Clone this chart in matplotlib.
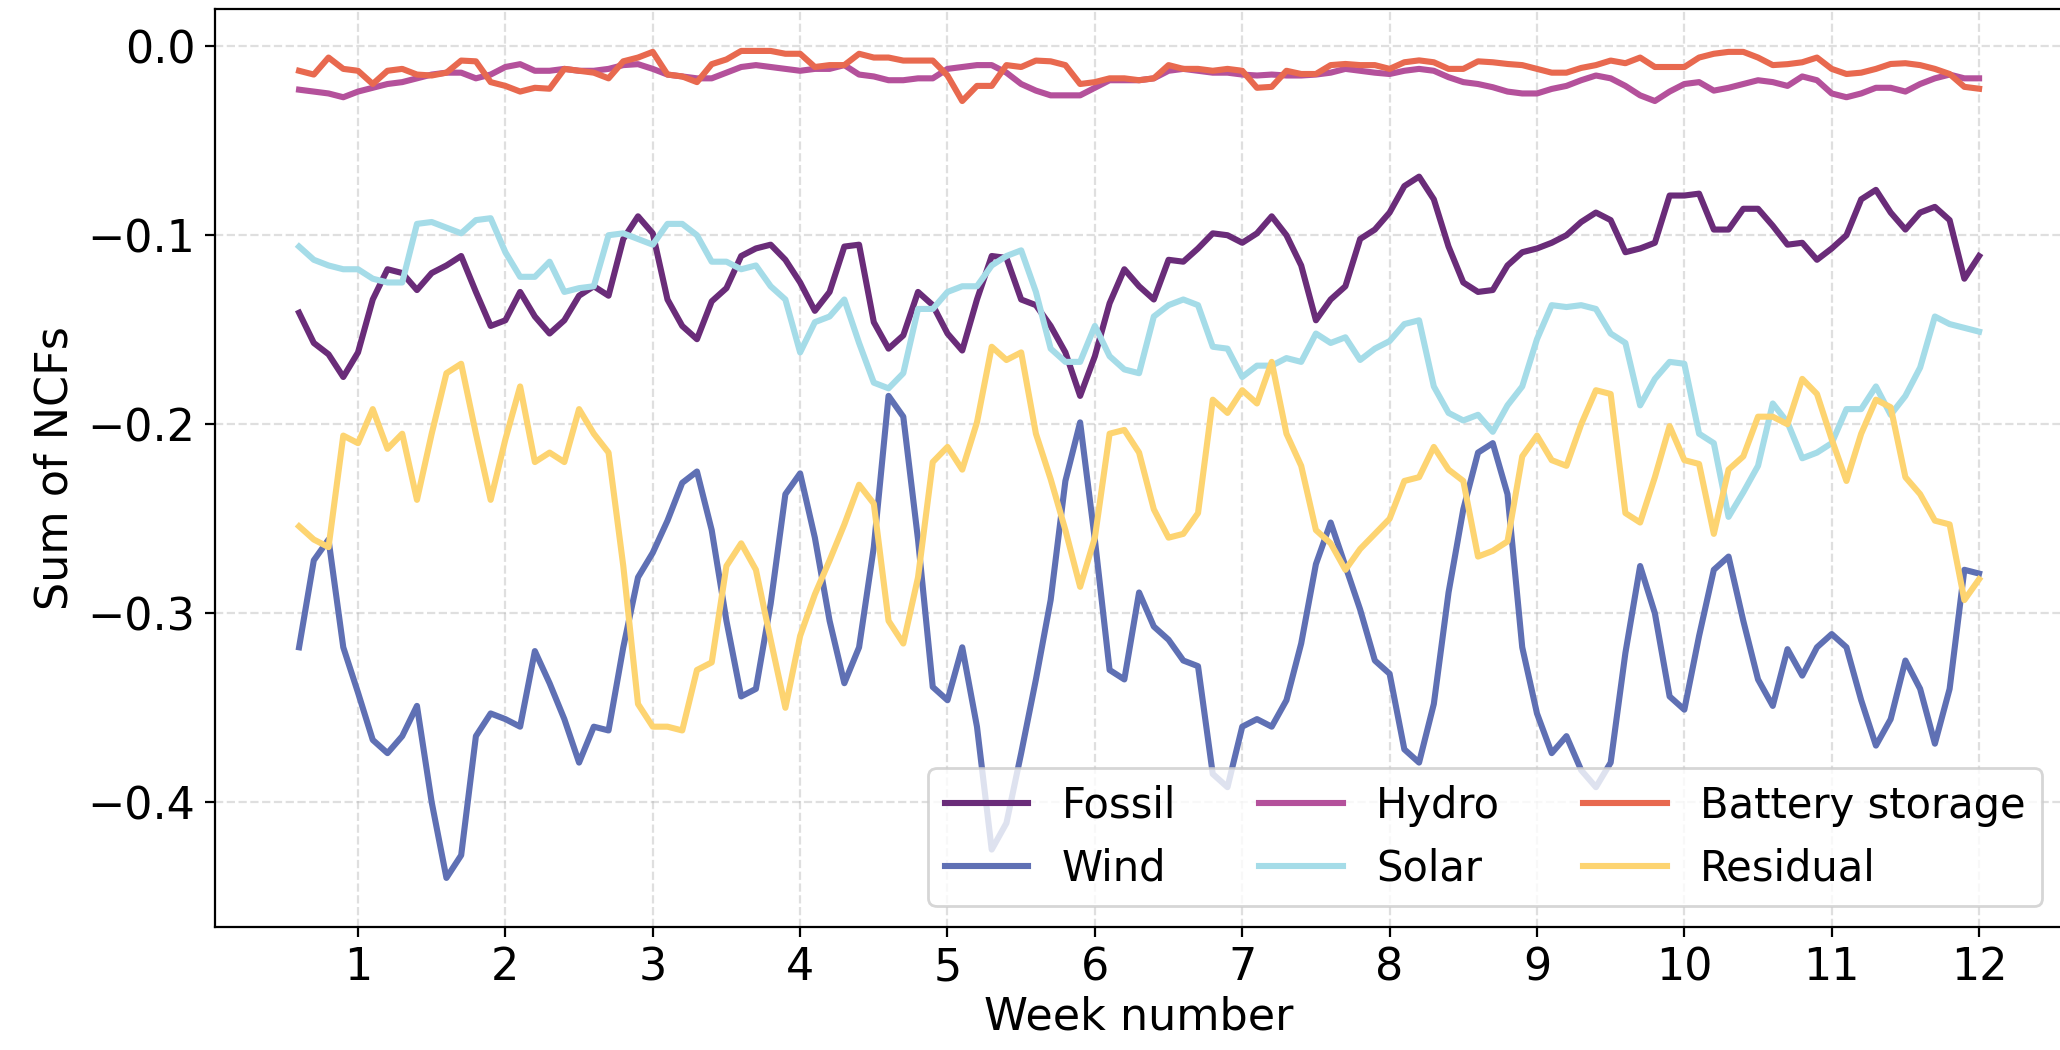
import numpy as np
import matplotlib
matplotlib.use("Agg")
import matplotlib.pyplot as plt

# sample times (week number), read every 0.1 week off the figure
week = np.arange(6, 121) / 10.0

fossil = [-0.141, -0.157, -0.163, -0.175, -0.162, -0.134, -0.118, -0.120, -0.129, -0.120,
          -0.116, -0.111, -0.130, -0.148, -0.145, -0.130, -0.143, -0.152, -0.145, -0.132,
          -0.127, -0.132, -0.102, -0.090, -0.099, -0.134, -0.148, -0.155, -0.135, -0.128,
          -0.111, -0.107, -0.105, -0.113, -0.125, -0.140, -0.130, -0.106, -0.105, -0.146,
          -0.160, -0.153, -0.130, -0.137, -0.152, -0.161, -0.134, -0.111, -0.112, -0.134,
          -0.137, -0.148, -0.162, -0.185, -0.164, -0.136, -0.118, -0.127, -0.134, -0.113,
          -0.114, -0.107, -0.099, -0.100, -0.104,
          -0.099, -0.090, -0.100, -0.116, -0.145, -0.134, -0.127, -0.102, -0.097, -0.088,
          -0.074, -0.069, -0.081, -0.106, -0.125, -0.130, -0.129, -0.116, -0.109, -0.107,
          -0.104, -0.100, -0.093, -0.088, -0.092, -0.109, -0.107, -0.104, -0.079, -0.079,
          -0.078, -0.097, -0.097, -0.086, -0.086,
          -0.095, -0.105, -0.104, -0.113, -0.107, -0.100, -0.081, -0.076, -0.088, -0.097,
          -0.088, -0.085, -0.092, -0.123, -0.111]

wind = [-0.318, -0.272, -0.261, -0.318, -0.342, -0.367, -0.374, -0.365, -0.349, -0.400,
        -0.440, -0.428, -0.365, -0.353, -0.356, -0.360, -0.320, -0.337, -0.356, -0.379,
        -0.360, -0.362, -0.318, -0.281, -0.268, -0.251, -0.231, -0.225, -0.256, -0.304,
        -0.344, -0.340, -0.295, -0.237, -0.226, -0.260, -0.304, -0.337, -0.318, -0.265,
        -0.185, -0.196, -0.261, -0.339, -0.346, -0.318, -0.360, -0.425, -0.411, -0.374,
        -0.335, -0.293, -0.230, -0.199, -0.261, -0.330, -0.335, -0.289, -0.307, -0.314,
        -0.325, -0.328, -0.385, -0.392, -0.360,
        -0.356, -0.360, -0.346, -0.316, -0.274, -0.252, -0.275, -0.298, -0.325, -0.332,
        -0.372, -0.379, -0.348, -0.289, -0.245, -0.215, -0.210, -0.237, -0.318, -0.353,
        -0.374, -0.365, -0.383, -0.392, -0.379, -0.321, -0.275, -0.300, -0.344, -0.351,
        -0.312, -0.277, -0.270, -0.304, -0.335,
        -0.349, -0.319, -0.333, -0.318, -0.311, -0.318, -0.346, -0.370, -0.356, -0.325,
        -0.340, -0.369, -0.340, -0.277, -0.279]

hydro = [-0.023, -0.024, -0.025, -0.027, -0.024, -0.022, -0.020, -0.019, -0.017, -0.015,
         -0.014, -0.014, -0.017, -0.015, -0.011, -0.0095, -0.013, -0.013, -0.012, -0.013,
         -0.013, -0.012, -0.010, -0.0095, -0.012, -0.015, -0.016, -0.017, -0.017, -0.014,
         -0.011, -0.010, -0.011, -0.012, -0.013, -0.012, -0.012, -0.010, -0.015, -0.016,
         -0.018, -0.018, -0.017, -0.017, -0.012, -0.011, -0.010, -0.010, -0.014, -0.020,
         -0.0235, -0.026, -0.026, -0.026, -0.022, -0.018, -0.018, -0.018, -0.017, -0.013,
         -0.012, -0.013, -0.014, -0.014, -0.015,
         -0.0155, -0.015, -0.0155, -0.0155, -0.015, -0.014, -0.012, -0.013, -0.014, -0.0147,
         -0.013, -0.012, -0.013, -0.0164, -0.019, -0.020, -0.0217, -0.024, -0.025, -0.025,
         -0.0226, -0.021, -0.018, -0.0155, -0.017, -0.021, -0.026, -0.029, -0.024, -0.020,
         -0.019, -0.0235, -0.022, -0.020, -0.018,
         -0.019, -0.021, -0.016, -0.018, -0.025, -0.027, -0.025, -0.022, -0.022, -0.024,
         -0.020, -0.017, -0.015, -0.017, -0.017]

solar = [-0.106, -0.113, -0.116, -0.118, -0.118, -0.123, -0.125, -0.125, -0.094, -0.093,
         -0.096, -0.099, -0.092, -0.091, -0.109, -0.122, -0.122, -0.114, -0.130, -0.128,
         -0.127, -0.100, -0.099, -0.102, -0.105, -0.094, -0.094, -0.100, -0.114, -0.114,
         -0.118, -0.116, -0.127, -0.134, -0.162, -0.146, -0.143, -0.134, -0.157, -0.178,
         -0.181, -0.173, -0.139, -0.139, -0.130, -0.127, -0.127, -0.116, -0.111, -0.108,
         -0.130, -0.160, -0.167, -0.167, -0.148, -0.164, -0.171, -0.173, -0.143, -0.137,
         -0.134, -0.137, -0.159, -0.160, -0.175,
         -0.169, -0.169, -0.165, -0.167, -0.152, -0.157, -0.154, -0.166, -0.160, -0.156,
         -0.147, -0.145, -0.180, -0.194, -0.198, -0.195, -0.204, -0.190, -0.180, -0.155,
         -0.137, -0.138, -0.137, -0.139, -0.152, -0.157, -0.190, -0.176, -0.167, -0.168,
         -0.205, -0.210, -0.249, -0.236, -0.222,
         -0.189, -0.199, -0.218, -0.215, -0.210, -0.192, -0.192, -0.180, -0.195, -0.185,
         -0.170, -0.143, -0.147, -0.149, -0.151]

battery = [-0.013, -0.015, -0.006, -0.012, -0.013, -0.020, -0.013, -0.012, -0.015, -0.0155,
           -0.014, -0.0076, -0.008, -0.019, -0.021, -0.024, -0.022, -0.0225, -0.012, -0.013,
           -0.014, -0.017, -0.008, -0.006, -0.003, -0.015, -0.016, -0.019, -0.0095, -0.007,
           -0.0025, -0.0025, -0.0025, -0.004, -0.004, -0.011, -0.010, -0.010, -0.004, -0.006,
           -0.006, -0.0076, -0.0076, -0.0076, -0.0155, -0.029, -0.021, -0.021, -0.010, -0.011,
           -0.0076, -0.008, -0.010, -0.020, -0.019, -0.017, -0.017, -0.018, -0.017, -0.010,
           -0.012, -0.012, -0.013, -0.012, -0.013,
           -0.022, -0.0215, -0.013, -0.0147, -0.0147, -0.010, -0.0094, -0.010, -0.010, -0.012,
           -0.0085, -0.0075, -0.0085, -0.012, -0.012, -0.008, -0.0085, -0.0094, -0.010, -0.012,
           -0.014, -0.014, -0.0115, -0.010, -0.0076, -0.009, -0.006, -0.011, -0.011, -0.011,
           -0.006, -0.004, -0.003, -0.003, -0.006,
           -0.010, -0.0095, -0.0085, -0.006, -0.012, -0.0147, -0.014, -0.012, -0.0094, -0.009,
           -0.010, -0.012, -0.0147, -0.0215, -0.0225]

residual = [-0.254, -0.261, -0.265, -0.206, -0.210, -0.192, -0.213, -0.205, -0.240, -0.205,
            -0.173, -0.168, -0.205, -0.240, -0.208, -0.180, -0.220, -0.215, -0.220, -0.192,
            -0.205, -0.215, -0.275, -0.348, -0.360, -0.360, -0.362, -0.330, -0.326, -0.275,
            -0.263, -0.277, -0.314, -0.350, -0.312, -0.290, -0.272, -0.253, -0.232, -0.242,
            -0.304, -0.316, -0.281, -0.220, -0.212, -0.224, -0.199, -0.159, -0.166, -0.162,
            -0.205, -0.229, -0.256, -0.286, -0.260, -0.205, -0.203, -0.215, -0.245, -0.260,
            -0.258, -0.247, -0.187, -0.194, -0.182,
            -0.189, -0.167, -0.205, -0.222, -0.256, -0.263, -0.277, -0.266, -0.258, -0.250,
            -0.230, -0.228, -0.212, -0.224, -0.230, -0.270, -0.267, -0.262, -0.217, -0.206,
            -0.219, -0.222, -0.200, -0.182, -0.184, -0.247, -0.252, -0.228, -0.201, -0.219,
            -0.221, -0.258, -0.224, -0.217, -0.196,
            -0.196, -0.200, -0.176, -0.184, -0.208, -0.230, -0.205, -0.187, -0.191, -0.228,
            -0.237, -0.251, -0.253, -0.293, -0.282]

labels = ['Fossil', 'Wind', 'Hydro', 'Solar', 'Battery storage', 'Residual']
colors = ['#6a2c79', '#5f70b4', '#b4519b', '#a5dce8', '#e8694f', '#fdd471']
series = [fossil, wind, hydro, solar, battery, residual]

fig = plt.figure(figsize=(10.3, 5.25), dpi=200)
# right spine sits just past the edge of the picture, as in the original
ax = fig.add_axes([0.1044, 0.1171, 0.8971, 0.874])

for vals, lab, col in zip(series, labels, colors):
    ax.plot(week, vals, color=col, lw=2.2, label=lab)

ax.set_xlim(0.03, 12.57)
ax.set_ylim(-0.466, 0.0195)
ax.set_xticks(range(1, 13))
ax.set_yticks([0.0, -0.1, -0.2, -0.3, -0.4])
ax.tick_params(labelsize=16)
ax.grid(True, linestyle='--', alpha=0.4)
ax.set_xlabel('Week number', fontsize=16, labelpad=2)
ax.set_ylabel('Sum of NCFs', fontsize=16)
ax.legend(loc='lower right', ncol=3, fontsize=15)

fig.savefig('out.png', dpi=200)
